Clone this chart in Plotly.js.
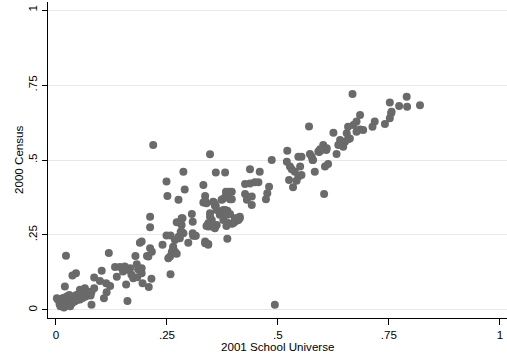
<!DOCTYPE html>
<html>
<head>
<meta charset="utf-8">
<script src="https://cdn.plot.ly/plotly-3.0.1.min.js"></script>
<style>html,body{margin:0;padding:0;background:#fff;}#chart{width:507px;height:360px;}</style>
</head>
<body>
<div id="chart"></div>
<script>
// 2001 School Universe (x) vs 2000 Census (y)
const schoolUniverse = [
  // low cluster
  0.004,0.008,0.010,0.012,0.015,0.018,0.020,0.022,0.025,0.027,0.030,0.032,0.034,0.036,0.038,0.040,0.042,0.044,0.046,0.048,
  0.050,0.052,0.054,0.056,0.058,0.060,0.062,0.065,0.067,0.070,0.072,0.075,0.078,0.080,0.016,0.024,0.030,0.054,0.065,0.069,0.075,0.002,
  // x 0.02-0.22
  0.0225,0.045,0.037,0.020,0.119,0.086,0.103,0.099,0.113,0.122,0.086,0.114,0.108,0.080,0.161,0.158,
  0.133,0.144,0.155,0.151,0.137,0.163,0.170,0.174,0.167,0.179,0.189,0.195,0.209,0.215,0.182,0.185,0.193,0.183,
  // x 0.19-0.30
  0.212,0.212,0.205,0.212,0.216,0.208,0.240,0.249,0.251,0.249,0.258,0.264,0.268,0.257,0.253,0.258,0.193,0.193,
  0.276,0.287,0.290,0.272,0.283,0.283,0.279,0.298,0.219,0.285,0.283,0.281,0.287,0.276,0.268,0.261,0.268,0.264,0.272,
  // x 0.30-0.42
  0.306,0.308,0.309,0.315,0.332,0.336,0.332,0.339,0.347,0.360,0.381,0.383,0.386,0.356,0.360,0.373,0.377,0.386,0.381,0.392,
  0.347,0.351,0.343,0.354,0.339,0.369,0.377,0.388,0.384,0.403,0.411,0.336,0.343,0.386,0.396,0.396,0.414,0.407,0.399,
  0.308,0.313,0.336,0.343,0.347,0.348,0.351,0.343,0.362,0.358,0.375,0.384,0.390,0.381,0.386,0.392,0.403,0.408,0.414,0.388,0.396,
  0.336,0.354,0.358,0.362,0.381,
  // x 0.42-0.50
  0.437,0.459,0.426,0.437,0.448,0.456,0.426,0.430,0.441,0.441,0.480,0.476,0.473,0.486,0.493,
  // x 0.50-0.63
  0.521,0.546,0.572,0.578,0.593,0.609,0.520,0.527,0.531,0.538,0.550,0.546,0.553,0.525,0.542,0.534,0.583,0.606,0.613,0.604,
  0.570,0.602,0.610,0.598,0.625,0.576,0.579,0.591,0.595,0.553,
  // x 0.63-0.82
  0.668,0.790,0.752,0.773,0.791,0.820,0.756,0.755,0.752,0.741,0.718,0.713,0.685,0.677,0.670,0.658,0.655,0.685,0.692,0.677,
  0.640,0.643,0.651,0.658,0.647,0.636,0.632,0.662
];
const census = [
  0.035,0.020,0.012,0.030,0.018,0.008,0.025,0.015,0.035,0.020,0.028,0.012,0.040,0.022,0.032,0.045,0.028,0.038,0.050,0.033,
  0.042,0.055,0.035,0.048,0.060,0.040,0.052,0.058,0.045,0.062,0.050,0.055,0.048,0.060,0.040,0.045,0.050,0.067,0.072,0.056,0.056,0.039,
  0.181,0.122,0.115,0.078,0.190,0.108,0.131,0.096,0.089,0.080,0.072,0.059,0.039,0.017,0.030,0.085,
  0.143,0.143,0.145,0.128,0.111,0.133,0.117,0.106,0.139,0.180,0.224,0.089,0.076,0.104,0.152,0.136,0.122,0.109,
  0.311,0.276,0.180,0.206,0.194,0.178,0.217,0.428,0.380,0.248,0.248,0.206,0.189,0.178,0.172,0.119,0.228,0.139,
  0.367,0.461,0.402,0.292,0.306,0.261,0.239,0.224,0.550,0.306,0.283,0.261,0.256,0.244,0.233,0.194,0.194,0.211,0.187,
  0.320,0.294,0.247,0.247,0.417,0.380,0.358,0.356,0.519,0.458,0.458,0.394,0.389,0.358,0.347,0.367,0.333,0.331,0.320,0.369,
  0.322,0.300,0.289,0.283,0.280,0.317,0.300,0.289,0.280,0.294,0.300,0.228,0.220,0.237,0.394,0.369,0.306,0.298,0.289,
  0.256,0.247,0.222,0.217,0.311,0.289,0.278,0.278,0.283,0.272,0.369,0.391,0.394,0.333,0.317,0.320,0.306,0.306,0.311,0.289,0.287,
  0.364,0.361,0.347,0.333,0.376,
  0.469,0.461,0.420,0.422,0.426,0.426,0.387,0.367,0.378,0.350,0.411,0.389,0.369,0.500,0.017,
  0.531,0.511,0.520,0.500,0.527,0.533,0.494,0.478,0.469,0.461,0.478,0.444,0.450,0.433,0.431,0.409,0.461,0.478,0.487,0.387,
  0.612,0.550,0.539,0.533,0.591,0.511,0.500,0.528,0.536,0.511,
  0.720,0.711,0.692,0.680,0.678,0.683,0.661,0.656,0.639,0.620,0.628,0.611,0.650,0.628,0.617,0.611,0.589,0.602,0.600,0.594,
  0.567,0.556,0.561,0.569,0.544,0.550,0.520,0.572
];
const tickVals = [0, 0.25, 0.5, 0.75, 1];
const tickText = ['0', '.25', '.5', '.75', '1'];
const xTitle = '2001 School Universe';
const yTitle = '2000 Census';

const font = {family: 'Liberation Sans, Arial, sans-serif', size: 11.6, color: '#000'};

Plotly.newPlot('chart', [{
  type: 'scatter', mode: 'markers',
  x: schoolUniverse, y: census,
  marker: {color: '#6a6a6a', size: 8, line: {width: 0}},
  hoverinfo: 'none'
}], {
  width: 507, height: 360,
  margin: {l: 48, r: 0, t: 2, b: 42},
  paper_bgcolor: '#fff', plot_bgcolor: '#fff',
  font: font,
  showlegend: false,
  xaxis: {
    range: [-0.018, 1.016], tickvals: tickVals, ticktext: tickText,
    showgrid: false, zeroline: false,
    showline: true, linecolor: '#000', linewidth: 1,
    ticks: 'outside', ticklen: 6, tickcolor: '#000', tickwidth: 1,
    tickfont: font
  },
  yaxis: {
    range: [-0.027, 1.027], tickvals: tickVals, ticktext: tickText,
    showgrid: true, gridcolor: '#e8e8e8', gridwidth: 1, zeroline: false,
    showline: true, linecolor: '#000', linewidth: 1,
    ticks: 'outside', ticklen: 5, tickcolor: '#000', tickwidth: 1,
    tickangle: -90, tickfont: font
  },
  annotations: [
    {text: xTitle, xref: 'paper', yref: 'paper', x: 0.5, y: 0, xanchor: 'center', yanchor: 'middle',
     yshift: -28, showarrow: false, font: font},
    {text: yTitle, xref: 'paper', yref: 'paper', x: 0, y: 0.5, xanchor: 'center', yanchor: 'middle',
     xshift: -30, textangle: -90, showarrow: false, font: font}
  ]
}, {staticPlot: true});
</script>
</body>
</html>
